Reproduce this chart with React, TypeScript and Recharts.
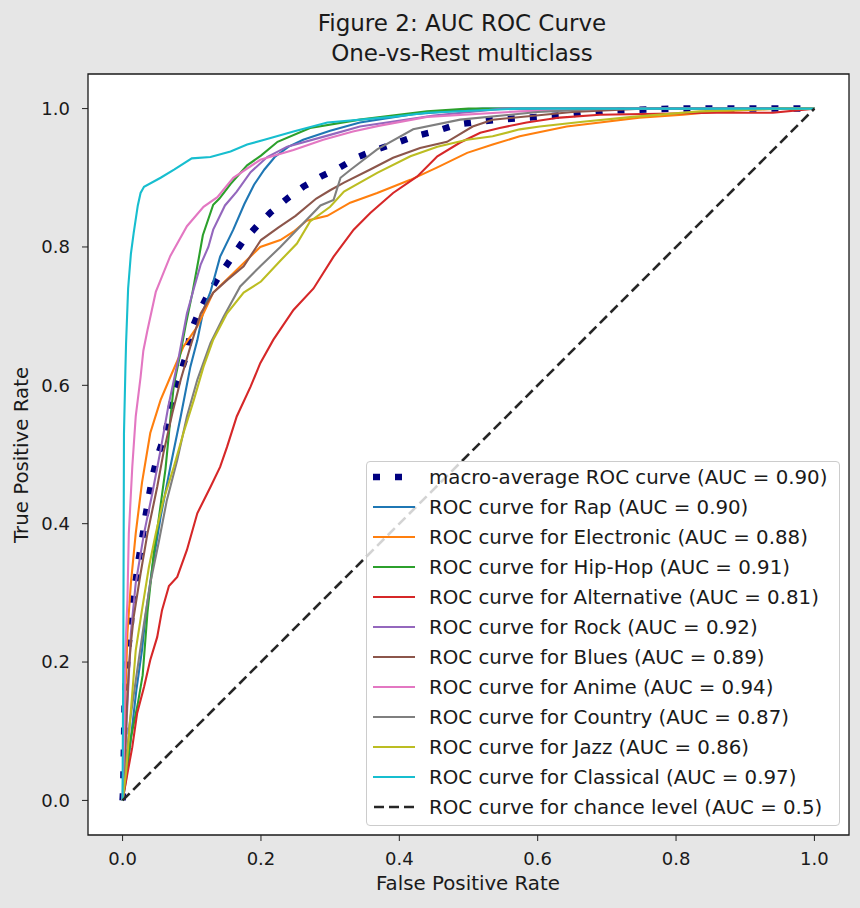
import { LineChart, Line, XAxis, YAxis, ReferenceArea, Legend } from "recharts";

// ROC points: [false positive rate, true positive rate]
const macroRoc = [
  [0, 0], [0.001, 0.02], [0.002, 0.08], [0.003, 0.145], [0.006, 0.19], [0.009, 0.227],
  [0.012, 0.256], [0.014, 0.289], [0.019, 0.318], [0.023, 0.347], [0.028, 0.376],
  [0.033, 0.41], [0.038, 0.439], [0.043, 0.467], [0.05, 0.496], [0.062, 0.531],
  [0.074, 0.589], [0.084, 0.618], [0.093, 0.647], [0.098, 0.676], [0.11, 0.705],
  [0.124, 0.732], [0.139, 0.757], [0.156, 0.782], [0.174, 0.808], [0.194, 0.83],
  [0.214, 0.85], [0.238, 0.87], [0.261, 0.887], [0.287, 0.902], [0.314, 0.915],
  [0.34, 0.93], [0.368, 0.941], [0.397, 0.951], [0.426, 0.961], [0.455, 0.968],
  [0.483, 0.977], [0.514, 0.981], [0.543, 0.984], [0.571, 0.986], [0.603, 0.988],
  [0.632, 0.99], [0.7, 0.997], [0.8, 1.0], [1, 1],
];
const rapRoc = [
  [0, 0], [0.005, 0.03], [0.012, 0.09], [0.02, 0.16], [0.028, 0.217], [0.033, 0.265],
  [0.043, 0.337], [0.055, 0.41], [0.069, 0.482], [0.084, 0.555], [0.098, 0.627],
  [0.108, 0.665], [0.117, 0.709], [0.127, 0.735], [0.141, 0.786], [0.16, 0.825],
  [0.176, 0.862], [0.19, 0.89], [0.205, 0.912], [0.22, 0.93], [0.24, 0.945], [0.261, 0.955],
  [0.3, 0.968], [0.343, 0.98], [0.42, 0.992], [0.52, 1.0], [1, 1],
];
const electronicRoc = [
  [0, 0], [0.002, 0.05], [0.004, 0.15], [0.007, 0.242], [0.012, 0.314], [0.019, 0.386],
  [0.028, 0.459], [0.04, 0.531], [0.055, 0.579], [0.069, 0.612], [0.088, 0.656],
  [0.108, 0.685], [0.131, 0.734], [0.16, 0.762], [0.199, 0.8], [0.228, 0.81],
  [0.247, 0.822], [0.266, 0.838], [0.296, 0.845], [0.329, 0.864], [0.368, 0.878],
  [0.416, 0.897], [0.455, 0.915], [0.498, 0.936], [0.535, 0.948], [0.574, 0.96],
  [0.642, 0.974], [0.69, 0.98], [0.747, 0.987], [0.81, 0.991], [0.859, 0.996],
  [0.95, 1.0], [1, 1],
];
const hipHopRoc = [
  [0, 0], [0.004, 0.03], [0.012, 0.09], [0.022, 0.14], [0.029, 0.181], [0.036, 0.272],
  [0.045, 0.357], [0.052, 0.405], [0.062, 0.479], [0.069, 0.551], [0.074, 0.6],
  [0.084, 0.648], [0.091, 0.686], [0.101, 0.734], [0.11, 0.783], [0.116, 0.817],
  [0.131, 0.861], [0.14, 0.87], [0.156, 0.891], [0.18, 0.918], [0.2, 0.932],
  [0.224, 0.952], [0.271, 0.972], [0.343, 0.984], [0.44, 0.996], [0.5, 1.0], [1, 1],
];
const alternativeRoc = [
  [0, 0], [0.007, 0.039], [0.014, 0.077], [0.021, 0.126], [0.031, 0.164], [0.04, 0.203],
  [0.05, 0.236], [0.057, 0.275], [0.067, 0.31], [0.079, 0.323], [0.093, 0.362],
  [0.108, 0.415], [0.127, 0.453], [0.141, 0.482], [0.151, 0.511], [0.165, 0.555],
  [0.185, 0.598], [0.199, 0.632], [0.218, 0.666], [0.247, 0.709], [0.276, 0.74],
  [0.305, 0.786], [0.334, 0.825], [0.358, 0.849], [0.391, 0.878], [0.426, 0.902],
  [0.455, 0.931], [0.488, 0.951], [0.517, 0.965], [0.545, 0.972], [0.584, 0.98],
  [0.632, 0.987], [0.69, 0.991], [0.859, 0.994], [0.94, 0.994], [1, 1],
];
const rockRoc = [
  [0, 0], [0.003, 0.05], [0.006, 0.12], [0.009, 0.18], [0.012, 0.242], [0.019, 0.314],
  [0.031, 0.386], [0.043, 0.444], [0.055, 0.507], [0.066, 0.569], [0.081, 0.64],
  [0.093, 0.704], [0.103, 0.74], [0.113, 0.775], [0.124, 0.8], [0.131, 0.825],
  [0.148, 0.86], [0.165, 0.88], [0.185, 0.908], [0.209, 0.93], [0.238, 0.945],
  [0.3, 0.962], [0.343, 0.974], [0.45, 0.99], [0.55, 1.0], [1, 1],
];
const bluesRoc = [
  [0, 0], [0.003, 0.05], [0.006, 0.13], [0.009, 0.19], [0.012, 0.227], [0.016, 0.265],
  [0.026, 0.328], [0.036, 0.386], [0.05, 0.453], [0.059, 0.502], [0.072, 0.56],
  [0.084, 0.608], [0.098, 0.656], [0.113, 0.704], [0.131, 0.734], [0.151, 0.752],
  [0.175, 0.772], [0.2, 0.81], [0.225, 0.828], [0.25, 0.845], [0.28, 0.87],
  [0.3, 0.882], [0.32, 0.893], [0.358, 0.912], [0.391, 0.929], [0.43, 0.943],
  [0.469, 0.952], [0.506, 0.974], [0.535, 0.984], [0.65, 0.995], [0.75, 1.0], [1, 1],
];
const animeRoc = [
  [0, 0], [0.002, 0.08], [0.004, 0.217], [0.007, 0.29], [0.009, 0.386], [0.014, 0.482],
  [0.019, 0.555], [0.026, 0.612], [0.03, 0.65], [0.036, 0.68], [0.048, 0.735],
  [0.069, 0.787], [0.093, 0.83], [0.117, 0.858], [0.137, 0.872], [0.16, 0.9],
  [0.199, 0.926], [0.247, 0.94], [0.29, 0.955], [0.333, 0.967], [0.37, 0.975],
  [0.44, 0.988], [0.574, 0.996], [0.7, 1.0], [1, 1],
];
const countryRoc = [
  [0, 0], [0.004, 0.04], [0.01, 0.11], [0.02, 0.18], [0.031, 0.256], [0.04, 0.314],
  [0.052, 0.372], [0.064, 0.434], [0.079, 0.492], [0.093, 0.555], [0.108, 0.608],
  [0.127, 0.661], [0.146, 0.699], [0.17, 0.743], [0.199, 0.772], [0.228, 0.8],
  [0.257, 0.83], [0.286, 0.86], [0.305, 0.868], [0.315, 0.9], [0.33, 0.912],
  [0.368, 0.941], [0.42, 0.97], [0.488, 0.984], [0.6, 0.995], [0.7, 1.0], [1, 1],
];
const jazzRoc = [
  [0, 0], [0.005, 0.04], [0.012, 0.13], [0.019, 0.217], [0.028, 0.275], [0.038, 0.337],
  [0.048, 0.386], [0.059, 0.434], [0.074, 0.482], [0.088, 0.531], [0.103, 0.579],
  [0.117, 0.627], [0.131, 0.666], [0.151, 0.704], [0.175, 0.734], [0.2, 0.75],
  [0.228, 0.78], [0.252, 0.805], [0.271, 0.837], [0.3, 0.858], [0.32, 0.88],
  [0.368, 0.907], [0.416, 0.931], [0.455, 0.945], [0.498, 0.955], [0.535, 0.96],
  [0.574, 0.97], [0.603, 0.974], [0.665, 0.981], [0.737, 0.988], [0.834, 0.996],
  [0.95, 1.0], [1, 1],
];
const classicalRoc = [
  [0, 0], [0.0, 0.02], [0.001, 0.2], [0.002, 0.53], [0.004, 0.62], [0.005, 0.66],
  [0.008, 0.74], [0.012, 0.79], [0.016, 0.82], [0.022, 0.86], [0.026, 0.878],
  [0.031, 0.887], [0.055, 0.9], [0.075, 0.912], [0.1, 0.928], [0.127, 0.93],
  [0.156, 0.938], [0.18, 0.948], [0.205, 0.955], [0.247, 0.967], [0.296, 0.98],
  [0.39, 0.988], [0.44, 0.994], [0.574, 1.0], [1, 1],
];
const chanceRoc = [[0, 0], [1, 1]];

const genres = ["Rap", "Electronic", "Hip-Hop", "Alternative", "Rock", "Blues", "Anime", "Country", "Jazz", "Classical"];
const genreAuc = ["0.90", "0.88", "0.91", "0.81", "0.92", "0.89", "0.94", "0.87", "0.86", "0.97"];
const genreRocs = [rapRoc, electronicRoc, hipHopRoc, alternativeRoc, rockRoc, bluesRoc, animeRoc, countryRoc, jazzRoc, classicalRoc];
const genreColors = ["#1f77b4", "#ff7f0e", "#2ca02c", "#d62728", "#9467bd", "#8c564b", "#e377c2", "#7f7f7f", "#bcbd22", "#17becf"];

const axisTicks = [0, 0.2, 0.4, 0.6, 0.8, 1.0];

const FONT = "'DejaVu Sans', sans-serif";
const TEXT = "#1a1a1a";

const toPoints = (pairs: number[][]) => pairs.map(([x, y]) => ({ x, y }));

const legendItems = [
  { label: "macro-average ROC curve (AUC = 0.90)", color: "#000080", kind: "dot" },
  ...genres.map((g, i) => ({ label: `ROC curve for ${g} (AUC = ${genreAuc[i]})`, color: genreColors[i], kind: "line" })),
  { label: "ROC curve for chance level (AUC = 0.5)", color: "#262626", kind: "dash" },
];

function LegendBox() {
  return (
    <div
      style={{
        boxSizing: "border-box",
        width: 474,
        height: 365,
        background: "rgba(255,255,255,0.8)",
        border: "1px solid #cccccc",
        borderRadius: 4,
        fontFamily: FONT,
        fontSize: 19.8,
        color: TEXT,
      }}
    >
      {legendItems.map((item) => (
        <div key={item.label} style={{ display: "flex", alignItems: "center", height: 30 }}>
          <svg width={62} height={30} style={{ flex: "none" }}>
            {item.kind === "dot" && (
              <line x1={6} x2={48} y1={15} y2={15} stroke={item.color} strokeWidth={6.5} strokeDasharray="7 15" />
            )}
            {item.kind === "line" && (
              <line x1={6} x2={48} y1={15} y2={15} stroke={item.color} strokeWidth={2.2} />
            )}
            {item.kind === "dash" && (
              <line x1={7} x2={48} y1={15} y2={15} stroke={item.color} strokeWidth={2.6} strokeDasharray="10 5" />
            )}
          </svg>
          <span style={{ whiteSpace: "nowrap" }}>{item.label}</span>
        </div>
      ))}
    </div>
  );
}

export default function App() {
  const tick = { fontSize: 18, fill: TEXT, fontFamily: FONT };
  return (
    <div
      style={{
        position: "absolute",
        left: 0,
        top: 0,
        width: 860,
        height: 908,
        background: "#e6e6e6",
        fontFamily: FONT,
        color: TEXT,
      }}
    >
      <div
        style={{
          position: "absolute",
          left: 162,
          top: 8,
          width: 600,
          textAlign: "center",
          fontSize: 23,
          lineHeight: "30px",
        }}
      >
        <div>Figure 2: AUC ROC Curve</div>
        <div>One-vs-Rest multiclass</div>
      </div>

      <LineChart width={860} height={908} margin={{ top: 74, right: 11, bottom: 43, left: 0 }}>
        <ReferenceArea x1={-0.05} x2={1.05} y1={-0.05} y2={1.05} fill="#ffffff" fillOpacity={1} stroke="none" />
        <XAxis
          type="number"
          dataKey="x"
          domain={[-0.05, 1.05]}
          ticks={axisTicks}
          tickFormatter={(v: number) => v.toFixed(1)}
          allowDataOverflow
          axisLine={false}
          tickLine={{ stroke: "#222" }}
          tickSize={6}
          tickMargin={11}
          height={30}
          tick={tick}
        />
        <YAxis
          type="number"
          dataKey="y"
          domain={[-0.05, 1.05]}
          ticks={axisTicks}
          tickFormatter={(v: number) => v.toFixed(1)}
          allowDataOverflow
          axisLine={false}
          tickLine={{ stroke: "#222" }}
          tickSize={6}
          tickMargin={12}
          width={88}
          tick={tick}
        />
        <Line
          data={toPoints(macroRoc)}
          dataKey="y"
          type="linear"
          stroke="#000080"
          strokeWidth={6.5}
          strokeDasharray="7 15"
          dot={false}
          activeDot={false}
          isAnimationActive={false}
        />
        {genres.map((g, i) => (
          <Line
            key={g}
            data={toPoints(genreRocs[i])}
            dataKey="y"
            type="linear"
            stroke={genreColors[i]}
            strokeWidth={2.1}
            dot={false}
            activeDot={false}
            isAnimationActive={false}
          />
        ))}
        <Line
          data={toPoints(chanceRoc)}
          dataKey="y"
          type="linear"
          stroke="#262626"
          strokeWidth={2.6}
          strokeDasharray="10 5"
          dot={false}
          activeDot={false}
          isAnimationActive={false}
        />
        <ReferenceArea
          x1={-0.05}
          x2={1.05}
          y1={-0.05}
          y2={1.05}
          fill="none"
          stroke="#1a1a1a"
          strokeWidth={1.3}
          ifOverflow="visible"
        />
        <Legend
          layout="vertical"
          align="center"
          verticalAlign="middle"
          content={() => <LegendBox />}
          wrapperStyle={{ left: 366, top: 461, width: 474, height: 365 }}
        />
      </LineChart>

      <div
        style={{
          position: "absolute",
          left: 268,
          top: 872,
          width: 400,
          textAlign: "center",
          fontSize: 19.8,
          lineHeight: "24px",
        }}
      >
        False Positive Rate
      </div>
      <div
        style={{
          position: "absolute",
          left: 22 - 150,
          top: 455 - 12,
          width: 300,
          height: 24,
          textAlign: "center",
          fontSize: 19.8,
          lineHeight: "24px",
          transform: "rotate(-90deg)",
        }}
      >
        True Positive Rate
      </div>
    </div>
  );
}
